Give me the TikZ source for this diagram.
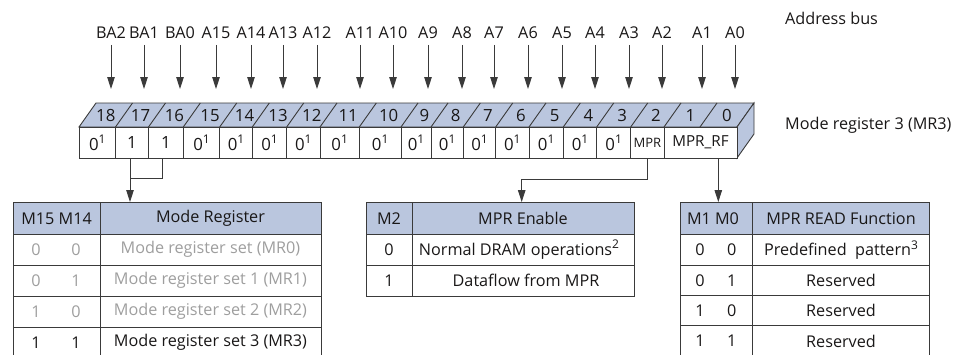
\documentclass[tikz,border=0pt]{standalone}
\usepackage{fontspec}
\setmainfont{Open Sans}
\usetikzlibrary{arrows.meta}
\definecolor{hdr}{RGB}{186,198,222}
\definecolor{ln}{RGB}{58,58,58}
\definecolor{txt}{RGB}{25,23,23}
\definecolor{gry}{RGB}{158,158,158}
\newcommand\supnum[1]{\raisebox{0.42em}{\fontsize{12}{13}\selectfont #1}}
\newcommand\zerosup{0\supnum{1}}
\begin{document}
\begin{tikzpicture}[x=1pt,y=-1pt,
  every node/.style={text=txt,font=\fontsize{16.2}{18}\selectfont},
  arr/.style={draw=ln,line width=0.9pt,-{Triangle[length=12pt,width=7.5pt]}},
  wire/.style={draw=ln,line width=0.9pt},
  albl/.style={inner sep=0pt,text height=11.5pt,text depth=0pt},
  cell/.style={draw=ln,line width=0.9pt,fill=white,inner sep=0pt,minimum height=31pt},
  frame/.style={draw=ln,line width=1pt,inner sep=0pt,anchor=north west},
  tline/.style={draw=ln,line width=1pt},
  gt/.style={text=gry},
  small/.style={font=\fontsize{13}{14}\selectfont}
]
\useasboundingbox (0,0) rectangle (954,354);
\clip (0,0) rectangle (954,354);

% ---------- address bus labels and arrows ----------
\foreach \x/\t/\n in {111/BA2/18,144/BA1/17,180/BA0/16,216/A15/15,251/A14/14,283/A13/13,317/A12/12,360/A11/11,393/A10/10,428/A9/9,462/A8/8,494/A7/7,528/A6/6,562/A5/5,595/A4/4,629/A3/3,662/A2/2,702/A1/1,735/A0/0}{
  \node[albl] (a\n) at (\x,33) {\t};
  \coordinate (t\n) at (\x,89);
  \draw[arr,shorten <=6pt] (a\n.south) -- (t\n);
}
\node[anchor=west,inner sep=0pt] (abus) at (785,18) {Address bus};
\node[anchor=west,inner sep=0pt] (mr3) at (785,125) {Mode register 3 (MR3)};

% ---------- register: top face and side face ----------
\filldraw[fill=hdr,draw=ln,line width=0.9pt] (79,127) -- (96,103) -- (754,103) -- (737,127) -- cycle;
\filldraw[fill=hdr,draw=ln,line width=0.9pt] (737,127) -- (754,103) -- (754,134) -- (737,158) -- cycle;
\foreach \b in {115.5,148.5,183.3,219.7,252.3,286.7,320,359.3,401,431,463.3,495.7,529,563.3,596.7,630.7,664,700}{
  \draw[ln,line width=0.9pt] (\b,127) -- ({\b+17},103);
}
\foreach \l/\r/\n in {79/115.5/18,115.5/148.5/17,148.5/183.3/16,183.3/219.7/15,219.7/252.3/14,252.3/286.7/13,286.7/320/12,320/359.3/11,359.3/401/10,401/431/9,431/463.3/8,463.3/495.7/7,495.7/529/6,529/563.3/5,563.3/596.7/4,596.7/630.7/3,630.7/664/2,664/700/1,700/737/0}{
  \node[inner sep=0pt,font=\fontsize{16.8}{18}\selectfont] (n\n) at ({(\l+\r)/2+8.5},115.5) {\n};
}

% ---------- register: front cells ----------
\foreach \l/\r/\n/\t in {79/115.5/18/\zerosup,115.5/148.5/17/1,148.5/183.3/16/1,183.3/219.7/15/\zerosup,219.7/252.3/14/\zerosup,252.3/286.7/13/\zerosup,286.7/320/12/\zerosup,320/359.3/11/\zerosup,359.3/401/10/\zerosup,401/431/9/\zerosup,431/463.3/8/\zerosup,463.3/495.7/7/\zerosup,495.7/529/6/\zerosup,529/563.3/5/\zerosup,563.3/596.7/4/\zerosup,596.7/630.7/3/\zerosup}{
  \pgfmathsetmacro\w{\r-\l}
  \node[cell,minimum width=\w pt,font=\fontsize{16.8}{18}\selectfont] (f\n) at ({(\l+\r)/2},142.5) {\t};
}
\node[cell,minimum width=33.3pt,small] (f2) at (647.35,142.5) {MPR};
\node[cell,minimum width=73pt,font=\fontsize{15.2}{16}\selectfont] (fRF) at (700.5,142.5) {MPR\_RF};

% ---------- tables ----------
% Mode register table
\fill[hdr] (13.3,202) rectangle (321,234.3);
\node[frame,minimum width=307.7pt,minimum height=156.5pt] (T1) at (13.3,202) {};
\draw[tline] (13.3,234.3) -- (321,234.3);
\draw[tline] (13.3,265) -- (321,265);
\draw[tline] (13.3,296) -- (321,296);
\draw[tline] (13.3,327.3) -- (321,327.3);
\draw[tline] (100,202) -- (100,358.5);
\node (h1a) at (56.6,218.5) {M15 M14};
\node (h1b) at (210.5,218.5) {Mode Register};
\node[gt] (r1a) at (36,249.6) {0};  \node[gt] (r1b) at (76,249.6) {0};
\node[gt] (r1c) at (210.5,249.6) {Mode register set (MR0)};
\node[gt] (r2a) at (36,280.5) {0};  \node[gt] (r2b) at (76,280.5) {1};
\node[gt] (r2c) at (210.5,280.5) {Mode register set 1 (MR1)};
\node[gt] (r3a) at (36,311.6) {1};  \node[gt] (r3b) at (76,311.6) {0};
\node[gt] (r3c) at (210.5,311.6) {Mode register set 2 (MR2)};
\node (r4a) at (36,342.5) {1};  \node (r4b) at (76,342.5) {1};
\node (r4c) at (210.5,342.5) {Mode register set 3 (MR3)};

% MPR enable table
\fill[hdr] (366,202) rectangle (634,234.3);
\node[frame,minimum width=268pt,minimum height=93.5pt] (T2) at (366,202) {};
\draw[tline] (366,234.3) -- (634,234.3);
\draw[tline] (366,265) -- (634,265);
\draw[tline] (412.3,202) -- (412.3,295.5);
\node (h2a) at (389,218.5) {M2};
\node (h2b) at (523,218.5) {MPR Enable};
\node (s1a) at (389,249.6) {0};
\node (s1b) at (519,249.6) {Normal DRAM operations\supnum{2}};
\node (s2a) at (389,280.3) {1};
\node (s2b) at (526,280.3) {Dataflow from MPR};

% MPR read function table
\fill[hdr] (680,202) rectangle (929.3,234.3);
\node[frame,minimum width=249.3pt,minimum height=154pt] (T3) at (680,202) {};
\draw[tline] (680,234.3) -- (929.3,234.3);
\draw[tline] (680,265.7) -- (929.3,265.7);
\draw[tline] (680,295.7) -- (929.3,295.7);
\draw[tline] (680,325.7) -- (929.3,325.7);
\draw[tline] (752.7,202) -- (752.7,356);
\node (h3a) at (713,218.5) {M1 M0};
\node (h3b) at (841,218.5) {MPR READ Function};
\node (p1a) at (700,250) {0}; \node (p1b) at (731.7,250) {0};
\node (p1c) at (841,250) {Predefined\ \ pattern\supnum{3}};
\node (p2a) at (700,280.7) {0}; \node (p2b) at (731.7,280.7) {1};
\node (p2c) at (841,280.7) {Reserved};
\node (p3a) at (700,310.7) {1}; \node (p3b) at (731.7,310.7) {0};
\node (p3c) at (841,310.7) {Reserved};
\node (p4a) at (700,341) {1}; \node (p4b) at (731.7,341) {1};
\node (p4c) at (841,341) {Reserved};

% ---------- connectors ----------
\coordinate (k1) at (130,178);
\coordinate (k2) at (162,178);
\draw[wire] ([xshift=-2pt]f17.south) -- (k1) -- (k2) -- ([xshift=-3.9pt]f16.south);
\draw[arr] (k1) -- (T1.north -| k1);
\coordinate (k3) at (647.35,179);
\coordinate (k4) at (521.7,179);
\draw[wire] (f2.south) -- (k3) -- (k4);
\draw[arr] (k4) -- (T2.north -| k4);
\draw[arr] ([xshift=17.8pt]fRF.south) -- (T3.north -| 718.3,0);
\end{tikzpicture}
\end{document}
